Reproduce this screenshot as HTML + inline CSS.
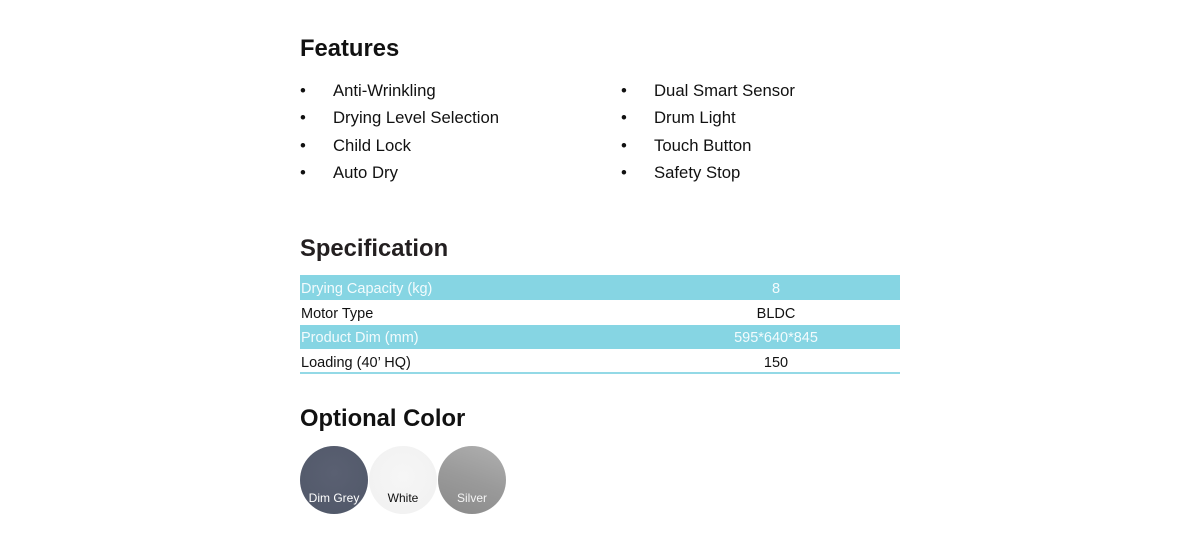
<!DOCTYPE html>
<html>
<head>
<meta charset="utf-8">
<style>
  html, body { margin:0; padding:0; }
  body { width:1200px; height:554px; background:#ffffff; position:relative; overflow:hidden;
         font-family:"Liberation Sans", Arial, sans-serif; color:#111; }
  .h { position:absolute; left:300px; font-weight:bold; font-size:23.8px; line-height:30px; height:30px; white-space:nowrap; color:#111; }
  .li { position:absolute; font-size:16.7px; line-height:27.3px; height:27.3px; white-space:nowrap; color:#111; }
  .b { position:absolute; font-size:16.7px; line-height:27.3px; height:27.3px; color:#111; }
  .row { position:absolute; left:300px; width:600px; height:25px; }
  .cyan { background:#86d5e3; color:#f2fbfd; }
  .white { background:#ffffff; color:#111; }
  .c1 { position:absolute; left:1px; top:0; font-size:14.5px; line-height:25px; white-space:nowrap; padding-top:1.5px; }
  .c2 { position:absolute; left:352px; width:248px; text-align:center; top:0; font-size:14.5px; line-height:25px; white-space:nowrap; padding-top:1.5px; }
  .circ { position:absolute; top:446px; width:68px; height:68px; border-radius:50%; }
  .cl { position:absolute; width:68px; text-align:center; top:489.5px; font-size:12px; line-height:16px; white-space:nowrap; }
</style>
</head>
<body>
  <div class="h" style="top:34px;">Features</div>

  <!-- left column -->
  <div class="b" style="left:300px; top:77px;">•</div>
  <div class="li" style="left:333px; top:77px;">Anti-Wrinkling</div>
  <div class="b" style="left:300px; top:104.3px;">•</div>
  <div class="li" style="left:333px; top:104.3px;">Drying Level Selection</div>
  <div class="b" style="left:300px; top:131.6px;">•</div>
  <div class="li" style="left:333px; top:131.6px;">Child Lock</div>
  <div class="b" style="left:300px; top:158.9px;">•</div>
  <div class="li" style="left:333px; top:158.9px;">Auto Dry</div>

  <!-- right column -->
  <div class="b" style="left:621px; top:77px;">•</div>
  <div class="li" style="left:654px; top:77px;">Dual Smart Sensor</div>
  <div class="b" style="left:621px; top:104.3px;">•</div>
  <div class="li" style="left:654px; top:104.3px;">Drum Light</div>
  <div class="b" style="left:621px; top:131.6px;">•</div>
  <div class="li" style="left:654px; top:131.6px;">Touch Button</div>
  <div class="b" style="left:621px; top:158.9px;">•</div>
  <div class="li" style="left:654px; top:158.9px;">Safety Stop</div>

  <div class="h" style="top:234px; color:#231f20;">Specification</div>

  <div class="row cyan" style="top:275px; height:25px;">
    <div class="c1">Drying Capacity (kg)</div>
    <div class="c2">8</div>
  </div>
  <div class="row white" style="top:300px; height:24.5px;">
    <div class="c1">Motor Type</div>
    <div class="c2">BLDC</div>
  </div>
  <div class="row cyan" style="top:324.5px; height:24.5px;">
    <div class="c1">Product Dim (mm)</div>
    <div class="c2">595*640*845</div>
  </div>
  <div class="row white" style="top:349px; height:23px;">
    <div class="c1">Loading (40’ HQ)</div>
    <div class="c2">150</div>
  </div>
  <div style="position:absolute; left:300px; top:372px; width:600px; height:2px; background:#93d9e6;"></div>

  <div class="h" style="top:404px;">Optional Color</div>

  <div class="circ" style="left:300px; background:radial-gradient(circle at 50% 40%, #5a6072 0%, #535a6b 70%, #4f5667 100%);"></div>
  <div class="cl" style="left:300px; color:#ffffff;">Dim Grey</div>

  <div class="circ" style="left:369px; background:radial-gradient(circle at 50% 45%, #f6f6f6 0%, #f2f2f2 70%, #ececec 100%);"></div>
  <div class="cl" style="left:369px; color:#111;">White</div>

  <div class="circ" style="left:438px; background:linear-gradient(200deg, #b0b0b0 0%, #9a9a9a 50%, #8a8a8a 100%);"></div>
  <div class="cl" style="left:438px; color:#f4f4f4;">Silver</div>
</body>
</html>
